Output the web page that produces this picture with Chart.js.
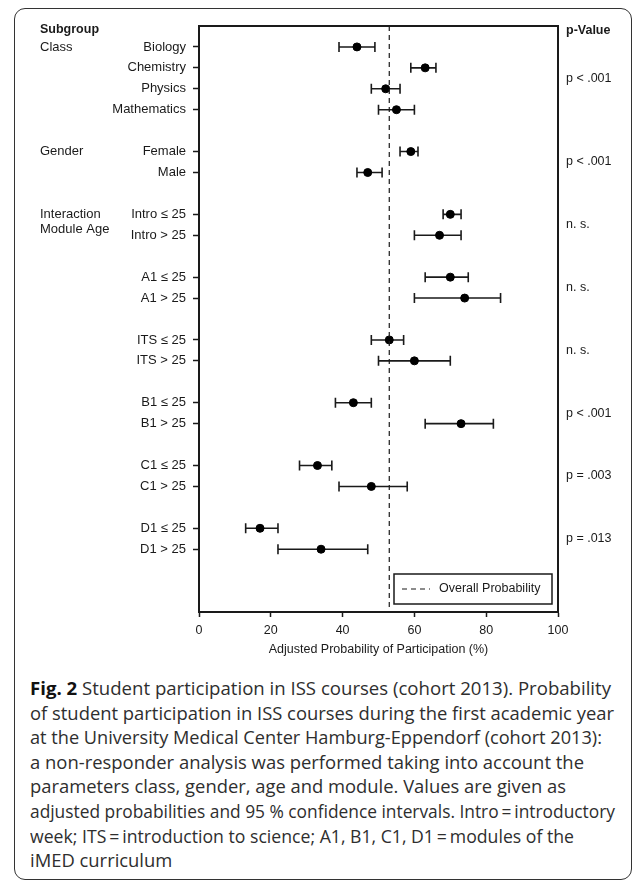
<!DOCTYPE html>
<html>
<head>
<meta charset="utf-8">
<script src="https://cdn.jsdelivr.net/npm/chart.js@4.4.1/dist/chart.umd.min.js"></script>
<style>
  body { margin: 0; background: #fff; }
  #frame {
    position: absolute; left: 14px; top: 8px; width: 616px; height: 870px;
    border: 1.5px solid #333; border-radius: 11px;
  }
  #chart { position: absolute; left: 0; top: 0; }
  #caption {
    position: absolute; left: 30px; top: 676px;
    font-family: "Open Sans", "Noto Sans", sans-serif; font-size: 17px; line-height: 24.6px;
    color: #2e2e2e; white-space: nowrap;
  }
  #caption span { display: inline-block; transform-origin: 0 50%; }
  #caption b { color: #111; }
</style>
</head>
<body>
<div id="frame"></div>
<canvas id="chart" width="633" height="657"></canvas>
<div id="caption"></div>
<script>
const rowLabels = ["Biology", "Chemistry", "Physics", "Mathematics", "Female", "Male",
  "Intro ≤ 25", "Intro > 25", "A1 ≤ 25", "A1 > 25", "ITS ≤ 25", "ITS > 25",
  "B1 ≤ 25", "B1 > 25", "C1 ≤ 25", "C1 > 25", "D1 ≤ 25", "D1 > 25"];
const rowPositions = [0, 1, 2, 3, 5, 6, 8, 9, 11, 12, 14, 15, 17, 18, 20, 21, 23, 24];
const estimates = [44, 63, 52, 55, 59, 47, 70, 67, 70, 74, 53, 60, 43, 73, 33, 48, 17, 34];
const lowerCI = [39, 59, 48, 50, 56, 44, 68, 60, 63, 60, 48, 50, 38, 63, 28, 39, 13, 22];
const upperCI = [49, 66, 56, 60, 61, 51, 73, 73, 75, 84, 57, 70, 48, 82, 37, 58, 22, 47];
const overallProbability = 53;

const groupNames = [["Class"], ["Gender"], ["Interaction", "Module Age"]];
const groupPositions = [0, 5, 8];
const pValues = ["p < .001", "p < .001", "n. s.", "n. s.", "n. s.", "p < .001", "p = .003", "p = .013"];
const pValuePositions = [1.5, 5.5, 8.5, 11.5, 14.5, 17.5, 20.5, 23.5];

const captionLines = [
  "<b>Fig. 2</b> Student participation in ISS courses (cohort 2013). Probability",
  "of student participation in ISS courses during the first academic year",
  "at the University Medical Center Hamburg-Eppendorf (cohort 2013):",
  "a non-responder analysis was performed taking into account the",
  "parameters class, gender, age and module. Values are given as",
  "adjusted probabilities and 95 % confidence intervals. Intro\u2009=\u2009introductory",
  "week; ITS\u2009=\u2009introduction to science; A1, B1, C1, D1\u2009=\u2009modules of the",
  "iMED curriculum",
];
const captionLineEnds = [611, 614, 602, 584, 566, 615, 574, null];

const font = "'Liberation Sans', Arial, sans-serif";
const ink = "#1a1a1a";

// same line breaks as the figure; each line squeezed to the figure's line length
const drawCaption = () => {
  const box = document.getElementById("caption");
  const left = 30;
  const probe = document.createElement("canvas").getContext("2d");
  probe.font = "17px 'Open Sans'";
  const w = probe.measureText(captionLines[1]).width;
  box.style.fontSize = (17 * (captionLineEnds[1] - left) / w).toFixed(2) + "px";

  captionLines.forEach((html, i) => {
    const span = document.createElement("span");
    span.innerHTML = html;
    box.appendChild(span);
    box.appendChild(document.createElement("br"));
    const end = captionLineEnds[i];
    if (end) {
      const natural = span.getBoundingClientRect().width;
      span.style.transform = "scaleX(" + ((end - left) / natural).toFixed(4) + ")";
    }
  });
};
drawCaption();

const errorBars = {
  id: "errorBars",
  beforeDatasetsDraw(chart) {
    const { ctx, scales: { x, y } } = chart;
    ctx.save();
    ctx.strokeStyle = ink;
    ctx.lineWidth = 1.6;
    rowPositions.forEach((row, i) => {
      const py = y.getPixelForValue(row);
      const x1 = x.getPixelForValue(lowerCI[i]);
      const x2 = x.getPixelForValue(upperCI[i]);
      ctx.beginPath();
      ctx.moveTo(x1, py);
      ctx.lineTo(x2, py);
      ctx.moveTo(x1, py - 5);
      ctx.lineTo(x1, py + 5);
      ctx.moveTo(x2, py - 5);
      ctx.lineTo(x2, py + 5);
      ctx.stroke();
    });
    ctx.restore();
  },
};

const extras = {
  id: "extras",
  afterDraw(chart) {
    const { ctx, chartArea: a, scales: { y } } = chart;
    ctx.save();

    // top and right edges of the plot box
    ctx.strokeStyle = ink;
    ctx.lineWidth = 2;
    ctx.beginPath();
    ctx.moveTo(a.left, a.top);
    ctx.lineTo(a.right, a.top);
    ctx.lineTo(a.right, a.bottom);
    ctx.stroke();

    ctx.fillStyle = ink;
    ctx.textBaseline = "middle";
    ctx.textAlign = "left";

    ctx.font = "bold 12.5px " + font;
    ctx.fillText("Subgroup", 40, a.top + 4);
    ctx.fillText("p-Value", a.right + 8, a.top + 5);

    ctx.font = "13px " + font;
    groupNames.forEach((lines, i) => {
      const py = y.getPixelForValue(groupPositions[i]);
      lines.forEach((t, j) => ctx.fillText(t, 40, py + j * 15));
    });

    ctx.font = "12.5px " + font;
    pValues.forEach((t, i) => {
      ctx.fillText(t, a.right + 8, y.getPixelForValue(pValuePositions[i]));
    });

    // legend
    const bx = a.right - 164, by = a.bottom - 38, bw = 158, bh = 30;
    ctx.fillStyle = "#fff";
    ctx.fillRect(bx, by, bw, bh);
    ctx.strokeStyle = ink;
    ctx.lineWidth = 1.5;
    ctx.strokeRect(bx, by, bw, bh);
    ctx.setLineDash([5, 4]);
    ctx.lineWidth = 1.2;
    ctx.beginPath();
    ctx.moveTo(bx + 8, by + bh / 2);
    ctx.lineTo(bx + 36, by + bh / 2);
    ctx.stroke();
    ctx.setLineDash([]);
    ctx.fillStyle = ink;
    ctx.font = "12.5px " + font;
    ctx.fillText("Overall Probability", bx + 45, by + bh / 2);

    ctx.restore();
  },
};

new Chart(document.getElementById("chart"), {
  type: "scatter",
  data: {
    datasets: [
      {
        type: "line",
        label: "Overall Probability",
        data: [{ x: overallProbability, y: -1 }, { x: overallProbability, y: 27 }],
        borderColor: ink,
        borderWidth: 1.2,
        borderDash: [5, 4],
        pointRadius: 0,
      },
      {
        label: "Adjusted probability",
        data: rowPositions.map((row, i) => ({ x: estimates[i], y: row })),
        pointRadius: 4,
        backgroundColor: "#000",
        borderColor: "#000",
      },
    ],
  },
  options: {
    responsive: false,
    animation: false,
    layout: { padding: { top: 26, right: 75, left: 0, bottom: 0 } },
    plugins: { legend: { display: false }, tooltip: { enabled: false } },
    scales: {
      x: {
        type: "linear",
        min: 0,
        max: 100,
        ticks: { stepSize: 20, color: ink, font: { family: font, size: 12.5 }, padding: 6 },
        grid: { drawOnChartArea: false, tickLength: 5, tickColor: ink, tickWidth: 1.5 },
        border: { color: ink, width: 2 },
        title: {
          display: true,
          text: "Adjusted Probability of Participation (%)",
          color: ink,
          font: { family: font, size: 12.5 },
          padding: 0,
        },
        afterFit(scale) { scale.height = 45; },
      },
      y: {
        type: "linear",
        min: -1,
        max: 27,
        reverse: true,
        afterBuildTicks(scale) {
          scale.ticks = rowPositions.map((v) => ({ value: v }));
        },
        ticks: {
          autoSkip: false,
          color: ink,
          font: { family: font, size: 13 },
          padding: 7,
          callback: (value, index) => rowLabels[index],
        },
        grid: { drawOnChartArea: false, tickLength: 6, tickColor: ink, tickWidth: 1.5 },
        border: { color: ink, width: 2 },
        afterFit(scale) { scale.width = 199; },
      },
    },
  },
  plugins: [errorBars, extras],
});
</script>
</body>
</html>
